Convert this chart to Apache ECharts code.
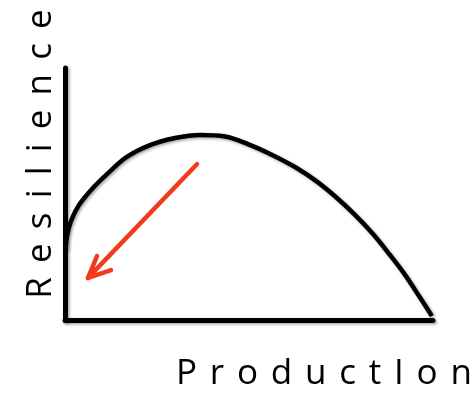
<!DOCTYPE html>
<html>
<head>
<meta charset="utf-8">
<script src="https://cdn.jsdelivr.net/npm/echarts@6/dist/echarts.min.js"></script>
<style>
  html, body { margin: 0; padding: 0; background: #fff; }
  #chart { width: 474px; height: 401px; }
</style>
</head>
<body>
<div id="chart"></div>
<script>
// production (x) and resilience (y), 0-100 scale
const production = [0.14, 0.54, 1.63, 3.8, 7.34, 11.7, 16.8, 23.1, 29.9, 36.7, 43.5, 49.7, 56.3, 62.5, 68.2, 73.6, 78.8, 83.7, 88.3, 92.4, 96.2, 99.7];
const resilience = [27.8, 33.3, 39.3, 45.6, 52.0, 58.3, 64.7, 69.4, 72.2, 73.4, 72.8, 69.8, 65.5, 60.7, 55.2, 48.8, 41.7, 34.1, 25.8, 17.9, 9.5, 1.6];
// red arrow: shaft from the top of the hump down towards the y axis, plus its two barbs
const arrowFrom = [35.9, 61.9];
const arrowTip = [6.25, 16.7];
const barbA = [8.7, 25.4];
const barbB = [12.5, 19.8];
const xLabel = "ProductIon";
const yLabel = "Resilience";

// letter-spaced label as rich text, gap width set by the gap font size
const spaced = (s) => s.split("").join("{g| }");
const shadow = {
  shadowColor: "rgba(0,0,0,0.35)",
  shadowBlur: 3,
  shadowOffsetX: 1.5,
  shadowOffsetY: 1.5,
};
const hiddenAxis = {
  type: "value",
  min: 0,
  max: 100,
  axisLine: { show: true, lineStyle: Object.assign({ color: "#000", width: 5 }, shadow) },
  axisTick: { show: false },
  axisLabel: { show: false },
  splitLine: { show: false },
};

const chart = echarts.init(document.getElementById("chart"));
chart.setOption({
  animation: false,
  grid: { left: 65, right: 41, top: 68, bottom: 81 },
  xAxis: hiddenAxis,
  yAxis: hiddenAxis,
  graphic: [
    {
      type: "text",
      x: 176,
      y: 374,
      style: {
        text: spaced(xLabel),
        fontFamily: "Open Sans",
        fontSize: 35,
        lineHeight: 40,
        fill: "#000",
        align: "left",
        verticalAlign: "middle",
        rich: { g: { fontSize: 46, lineHeight: 40 } },
      },
    },
    {
      type: "text",
      x: 41,
      y: 154,
      rotation: Math.PI / 2,
      style: {
        text: spaced(yLabel),
        fontFamily: "Open Sans",
        fontSize: 35,
        lineHeight: 40,
        fill: "#000",
        align: "center",
        verticalAlign: "middle",
        rich: { g: { fontSize: 51, lineHeight: 40 } },
      },
    },
  ],
  series: [
    {
      type: "line",
      data: production.map((x, i) => [x, resilience[i]]),
      smooth: 0.35,
      showSymbol: false,
      lineStyle: Object.assign({ color: "#000", width: 4.5 }, shadow),
      markLine: {
        silent: true,
        symbol: ["none", "none"],
        label: { show: false },
        lineStyle: { color: "#f23b1c", width: 4.5, type: "solid", cap: "round" },
        data: [
          [{ coord: arrowFrom }, { coord: arrowTip }],
          [{ coord: barbA }, { coord: arrowTip }],
          [{ coord: barbB }, { coord: arrowTip }],
        ],
      },
    },
  ],
});
</script>
</body>
</html>
